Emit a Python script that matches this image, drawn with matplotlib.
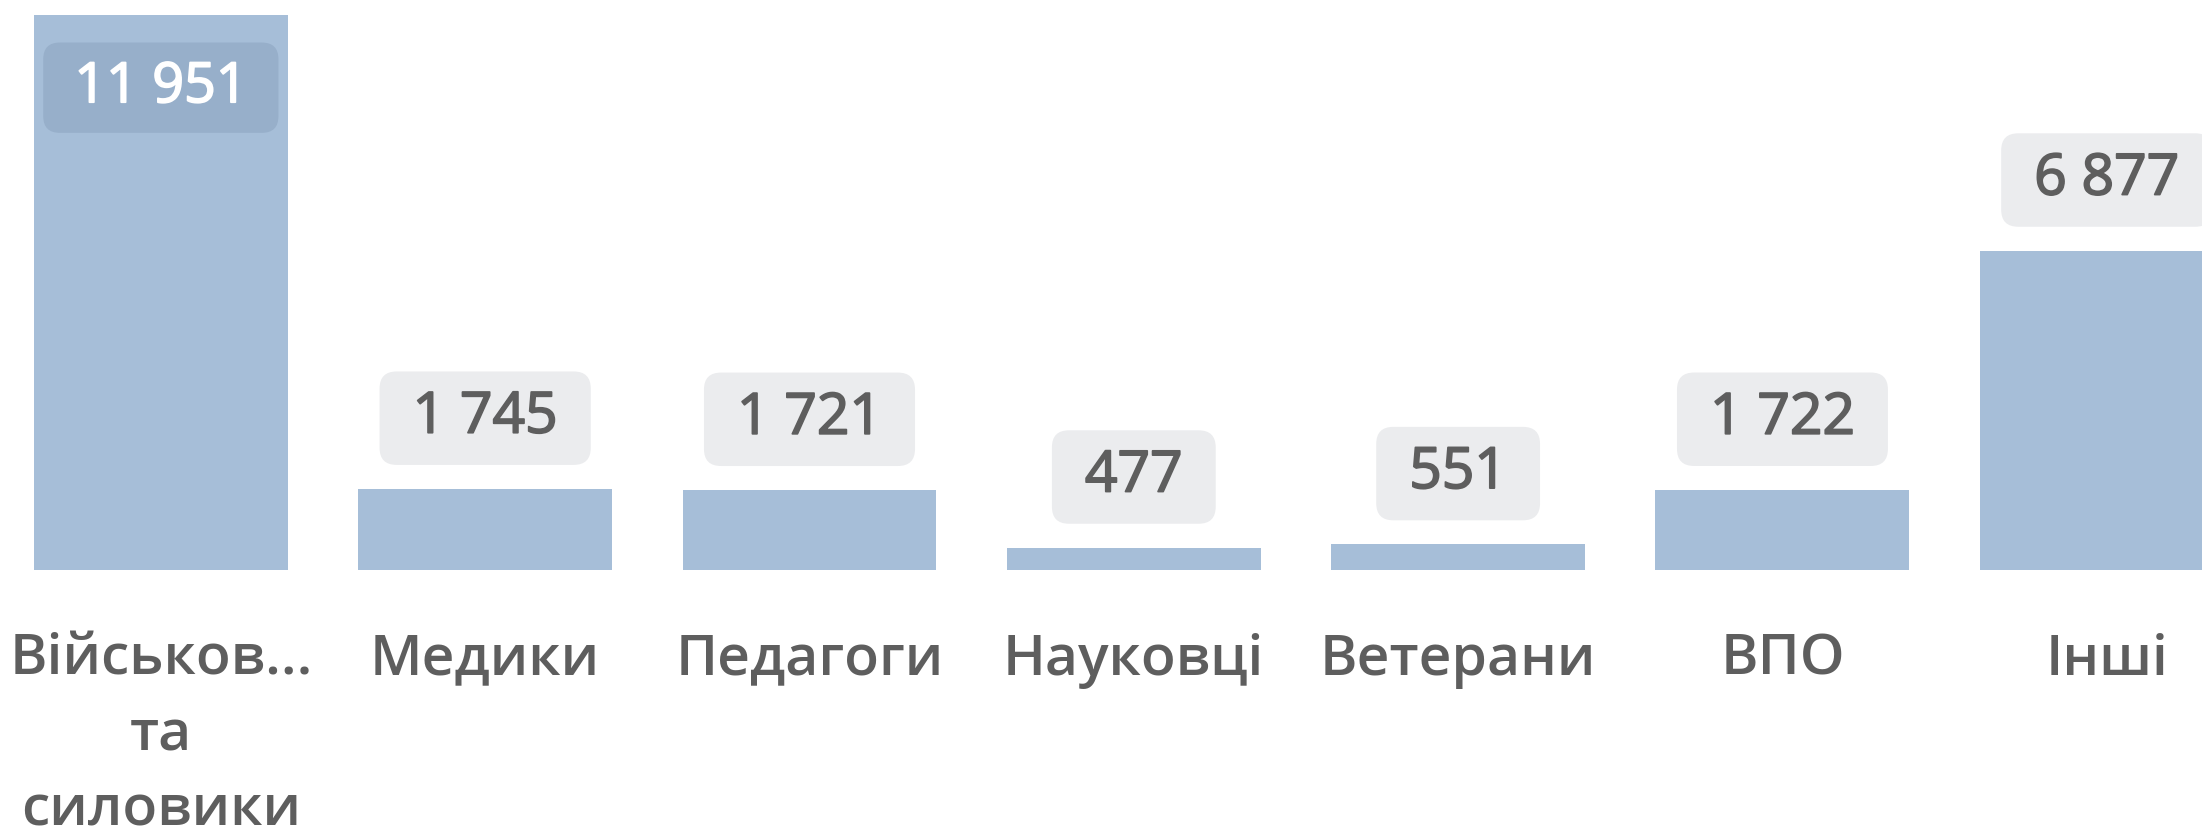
import matplotlib.pyplot as plt
import matplotlib.patheffects as pe

categories = ["Військов...\nта\nсиловики", "Медики", "Педагоги", "Науковці",
              "Ветерани", "ВПО", "Інші"]
values = [11951, 1745, 1721, 477, 551, 1722, 6877]

bar_color = "#A6BED8"
text_color = "#5E5E5E"

plt.rcParams['font.family'] = ['Open Sans', 'DejaVu Sans']

fig = plt.figure(figsize=(22.02, 8.39), dpi=100)
ax = fig.add_axes([-0.0006, 0.3206, 1.031, 0.661])

x = range(len(values))
ax.bar(x, values, width=0.783, color=bar_color)
ax.set_xlim(-0.5, 6.5)
ax.set_ylim(0, max(values))

for i, v in enumerate(values):
    num = f"{v:,}".replace(",", " ")
    if v == max(values):
        # label sits inside the tallest bar
        ax.annotate(" " + num + " ", (i, v), xytext=(0, -31.5),
                    textcoords="offset points", ha="center", va="top",
                    fontsize=40, color="white",
                    path_effects=[pe.withStroke(linewidth=1.3, foreground="white")],
                    bbox=dict(boxstyle="round,pad=0.3,rounding_size=0.3",
                              fc="#97AFCA", ec="none"))
    else:
        # spaces around the number make the badge a bit wider than tall
        ax.annotate(" " + num + " ", (i, v), xytext=(0, 30.5),
                    textcoords="offset points", ha="center", va="bottom",
                    fontsize=41, color=text_color,
                    path_effects=[pe.withStroke(linewidth=1.3, foreground=text_color)],
                    bbox=dict(boxstyle="round,pad=0.32,rounding_size=0.3",
                              fc="#EBECEE", ec="none"))

ax.set_xticks(list(x))
ax.set_xticklabels(categories, fontsize=41, color=text_color,
                   fontweight="semibold", linespacing=1.47)
ax.tick_params(axis="x", length=0, pad=45)
ax.set_yticks([])
for s in ax.spines.values():
    s.set_visible(False)

fig.savefig("out.png", dpi=100)
